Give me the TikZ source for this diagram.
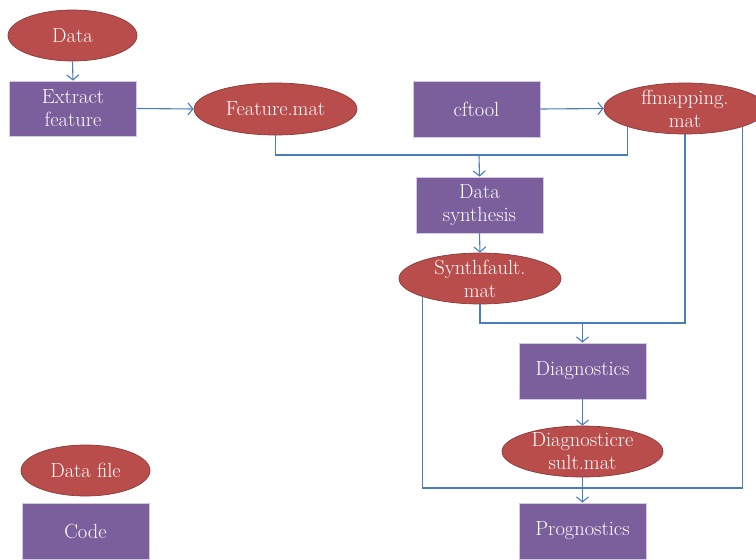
\documentclass[tikz,border=0pt]{standalone}
\usepackage{fontspec}
\usetikzlibrary{shapes.geometric,arrows.meta}
\definecolor{efill}{HTML}{B94D4B}
\definecolor{edraw}{HTML}{8C3A38}
\definecolor{rfill}{HTML}{7B5F9C}
\definecolor{rdraw}{HTML}{D2CAE2}
\definecolor{lblue}{HTML}{4A7EBB}
\begin{document}
\begin{tikzpicture}[x=1pt,y=-1pt,
  txt/.style={text=white,align=center,font=\fontsize{20.5}{23}\selectfont},
  datafile/.style={ellipse,fill=efill,draw=edraw,line width=0.7pt,inner sep=0pt,
    minimum width=162pt,minimum height=51pt,
    label={[txt,inner sep=0pt]center:#1}},
  codebox/.style={rectangle,fill=rfill,draw=rdraw,line width=0.8pt,inner sep=0pt,
    minimum width=127pt,minimum height=56pt,txt},
  conn/.style={draw=lblue,line width=1.1pt},
  arr/.style={conn,-{Straight Barb[length=5pt,width=12pt,line width=1.1pt]}}]
\useasboundingbox (0,0) rectangle (756,560);
\clip (0,0) rectangle (756,560);
\fill[white] (0,0) rectangle (756,560);

\node[datafile=Data,minimum width=129pt] (data) at (72.5,35.5) {};
\node[codebox,minimum height=55pt] (extract) at (73,108.5) {Extract\\feature};
\node[datafile=Feature.mat,minimum width=163pt,minimum height=52pt] (feature) at (275.5,109) {};
\node[codebox] (cftool) at (476.5,109) {cftool};
\node[datafile={ffmapping.\\mat}] (ffmap) at (685,108.5) {};
\node[codebox] (synth) at (479.5,205) {Data\\synthesis};
\node[datafile={Synthfault.\\mat}] (sfault) at (480,278.5) {};
\node[codebox] (diag) at (582.5,371) {Diagnostics};
\node[datafile={Diagnosticre\\sult.mat},minimum width=161pt] (dres) at (582.5,451.5) {};
\node[codebox] (progn) at (582.5,531) {Prognostics};
\node[datafile={Data file},minimum width=129pt] (dfile) at (85.5,470.5) {};
\node[codebox] (code) at (85.5,531) {Code};

\coordinate (j1) at (479,155);
\coordinate (j2) at (582.5,323);
\coordinate (j3) at (582.5,488);

\draw[arr] (data.south) -- (extract.north);
\draw[arr] (extract.east) -- (feature.west);
\draw[arr] (cftool.east) -- (ffmap.west);
\draw[conn] (feature.south) |- (j1) -| (ffmap.south west);
\draw[arr] (j1) -- (synth.north);
\draw[arr] (synth.south) -- (sfault.north);
\draw[conn] (sfault.south) |- (j2) -| (ffmap.south);
\draw[arr] (j2) -- (diag.north);
\draw[arr] (diag.south) -- (dres.north);
\draw[conn] (sfault.south west) |- (j3) -| (ffmap.south east);
\draw[arr] (dres.south) -- (progn.north);
\end{tikzpicture}
\end{document}
